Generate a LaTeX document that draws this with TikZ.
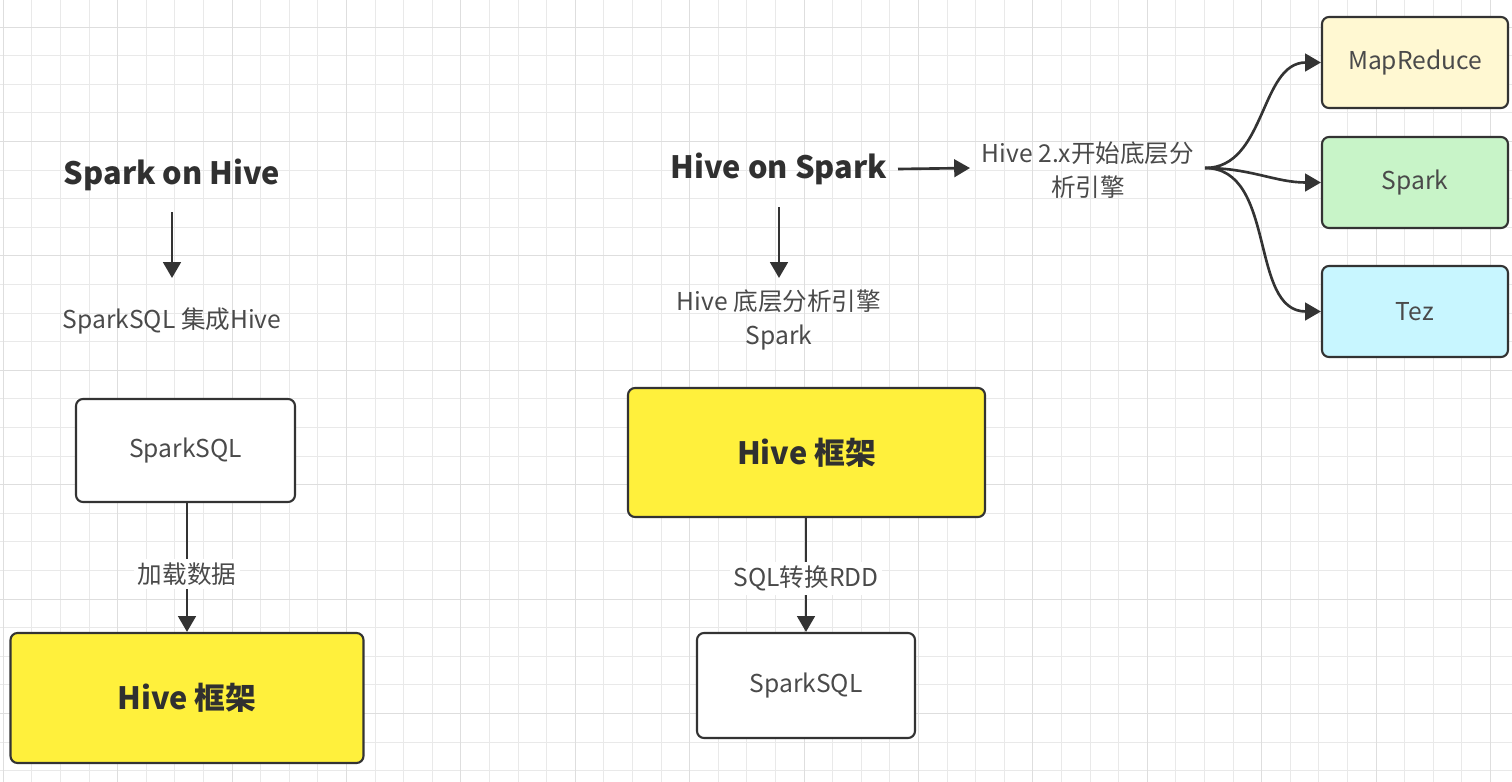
\documentclass[tikz,border=0pt]{standalone}
\usepackage{fontspec}
\setmainfont{Noto Sans CJK SC}
\usetikzlibrary{
    arrows.meta,
    positioning
}
\definecolor{linegray}{HTML}{333333}
\definecolor{textdark}{HTML}{303030}
\definecolor{textgray}{HTML}{4A4A4A}
\definecolor{hiveyellow}{HTML}{FFF03C}
\definecolor{mrfill}{HTML}{FFF8D2}
\definecolor{spfill}{HTML}{C8F4C8}
\definecolor{tezfill}{HTML}{C8F6FF}
\definecolor{gridminor}{HTML}{E9E9E9}
\definecolor{gridmajor}{HTML}{DEDEDE}
\tikzstyle{box} = [
    rectangle,
    rounded corners=4pt,
    draw=linegray,
    line width=1.2pt,
    fill=white,
    text=textgray,
    align=center,
    font=\fontsize{14}{17}\selectfont
]
\tikzstyle{hivebox} = [
    box,
    fill=hiveyellow,
    text=textdark,
    font=\fontsize{17.5}{22}\selectfont\bfseries
]
\tikzstyle{engine} = [
    box,
    minimum width=3.72cm,
    minimum height=1.82cm
]
\tikzstyle{title} = [
    text=textdark,
    font=\fontsize{17.5}{22}\selectfont\bfseries
]
\tikzstyle{note} = [
    text=textgray,
    align=center,
    font=\fontsize{14}{19}\selectfont
]
\tikzstyle{lbl} = [
    note,
    fill=white,
    inner sep=2pt
]
\tikzstyle{arrow} = [
    -{Triangle[length=9pt,width=10pt]},
    line width=1.5pt,
    draw=linegray
]

\begin{document}
\begin{tikzpicture}
        \useasboundingbox (0,0) rectangle (30.24,-15.64);
        \fill[white] (0,0) rectangle (30.24,-15.64);

        % Grid
        \foreach \i in {0,...,52}
            \draw[gridminor, line width=0.5pt] ({0.066+0.572*\i},0) -- ++(0,-15.64);
        \foreach \i in {0,...,26}
            \draw[gridminor, line width=0.5pt] (0,{-0.54-0.572*\i}) -- ++(30.24,0);
        \foreach \i in {0,4,...,52}
            \draw[gridmajor, line width=0.5pt] ({0.066+0.572*\i},0) -- ++(0,-15.64);
        \foreach \i in {0,4,...,24}
            \draw[gridmajor, line width=0.5pt] (0,{-0.54-0.572*\i}) -- ++(30.24,0);

        % Spark on Hive
        \node[title] (sonh) at (3.44,-3.50) {Spark on Hive};
        \node[note] (integ) at (3.44,-6.42) {SparkSQL 集成Hive};
        \node[box, minimum width=4.38cm, minimum height=2.06cm] (sql1) at (3.71,-9.01) {SparkSQL};
        \node[hivebox, minimum width=7.06cm, minimum height=2.6cm] (hive1) at (3.74,-13.96) {Hive 框架};

        \draw[arrow] ([yshift=-0.74cm]sonh.center) -- ([yshift=0.86cm]integ.center);
        \draw[arrow] (sql1.south -| hive1.north) -- node[lbl, pos=0.55] {加载数据} (hive1.north);

        % Hive on Spark
        \node[title] (honsp) at (15.58,-3.38) {Hive on Spark};
        \node[note] (engnote) at (21.76,-3.40) {Hive 2.x开始底层分\\析引擎};
        \node[note] (lower) at (15.58,-6.40) {Hive 底层分析引擎\\Spark};
        \node[hivebox, minimum width=7.14cm, minimum height=2.58cm] (hive2) at (16.13,-9.05) {Hive 框架};
        \node[box, minimum width=4.36cm, minimum height=2.1cm] (sql2) at (16.12,-13.71) {SparkSQL};

        \draw[arrow] ([xshift=2.38cm]honsp.center) -- ([xshift=-2.36cm, yshift=0.04cm]engnote.center);
        \draw[arrow] ([yshift=-0.76cm]honsp.center) -- ([yshift=0.84cm]lower.center);
        \draw[arrow] (hive2.south -| sql2.north) -- node[lbl, pos=0.53] {SQL转换RDD} (sql2.north);

        % Engines
        \node[engine, fill=mrfill] (mr) at (28.30,-1.25) {MapReduce};
        \node[engine, fill=spfill] (spk) at (28.30,-3.65) {Spark};
        \node[engine, fill=tezfill] (tez) at (28.30,-6.23) {Tez};

        \coordinate (fork) at ([xshift=2.34cm, yshift=0.04cm]engnote.center);
        \foreach \t in {mr,spk,tez}
            \draw[arrow] (fork) to[out=0, in=180] (\t.west);
    \end{tikzpicture}
\end{document}
